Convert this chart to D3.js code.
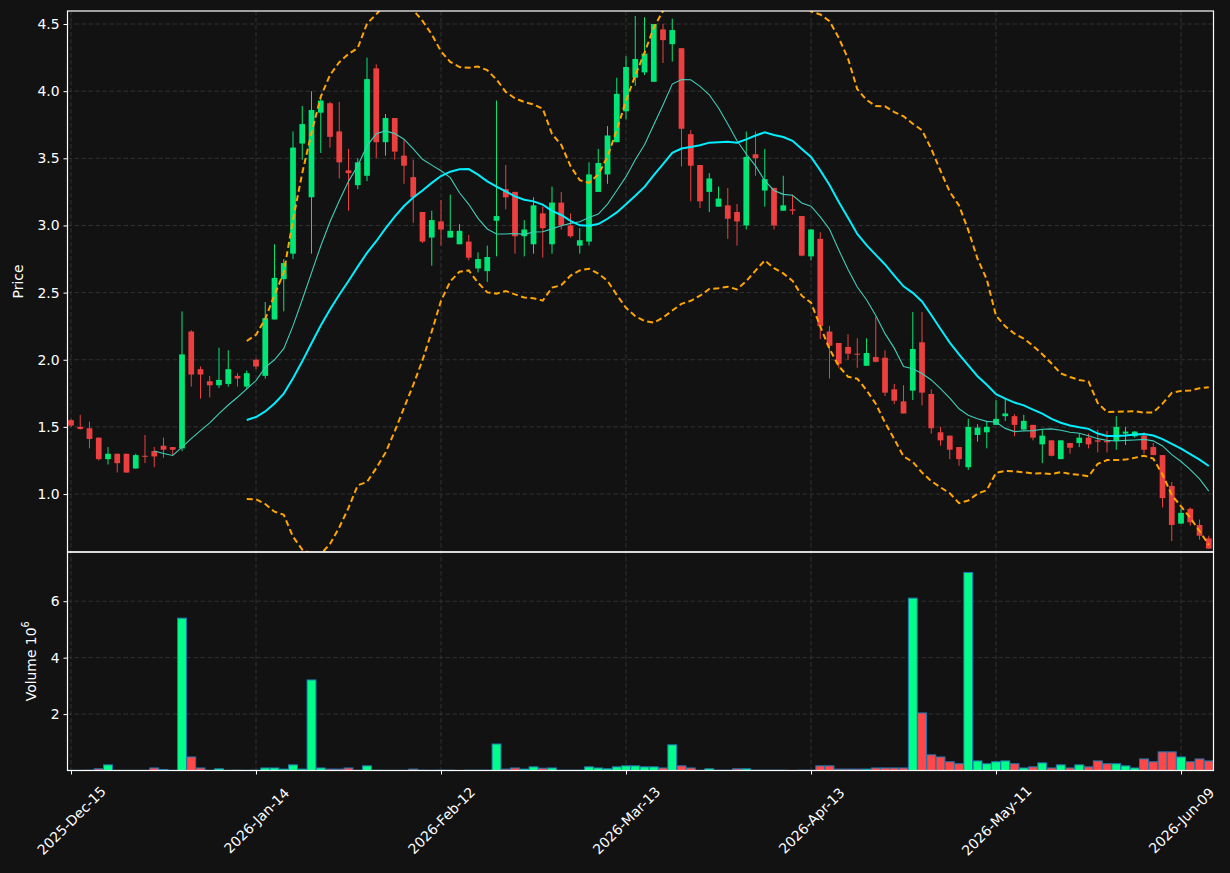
<!DOCTYPE html>
<html><head><meta charset="utf-8">
<script src="https://cdn.jsdelivr.net/npm/d3@7"></script>
<style>html,body{margin:0;padding:0;background:#121212;}svg{display:block;}</style>
</head><body>
<svg id="chart" width="1230" height="873"></svg>
<script>
// ---------------- data ----------------
const dates = [
"2025-12-15","2025-12-16","2025-12-17","2025-12-18","2025-12-19","2025-12-22","2025-12-23","2025-12-24","2025-12-26","2025-12-29",
"2025-12-30","2025-12-31","2026-01-02","2026-01-05","2026-01-06","2026-01-07","2026-01-08","2026-01-09","2026-01-12","2026-01-13",
"2026-01-14","2026-01-15","2026-01-16","2026-01-20","2026-01-21","2026-01-22","2026-01-23","2026-01-26","2026-01-27","2026-01-28",
"2026-01-29","2026-01-30","2026-02-02","2026-02-03","2026-02-04","2026-02-05","2026-02-06","2026-02-09","2026-02-10","2026-02-11",
"2026-02-12","2026-02-13","2026-02-17","2026-02-18","2026-02-19","2026-02-20","2026-02-23","2026-02-24","2026-02-25","2026-02-26",
"2026-02-27","2026-03-02","2026-03-03","2026-03-04","2026-03-05","2026-03-06","2026-03-09","2026-03-10","2026-03-11","2026-03-12",
"2026-03-13","2026-03-16","2026-03-17","2026-03-18","2026-03-19","2026-03-20","2026-03-23","2026-03-24","2026-03-25","2026-03-26",
"2026-03-27","2026-03-30","2026-03-31","2026-04-01","2026-04-02","2026-04-06","2026-04-07","2026-04-08","2026-04-09","2026-04-10",
"2026-04-13","2026-04-14","2026-04-15","2026-04-16","2026-04-17","2026-04-20","2026-04-21","2026-04-22","2026-04-23","2026-04-24",
"2026-04-27","2026-04-28","2026-04-29","2026-04-30","2026-05-01","2026-05-04","2026-05-05","2026-05-06","2026-05-07","2026-05-08",
"2026-05-11","2026-05-12","2026-05-13","2026-05-14","2026-05-15","2026-05-18","2026-05-19","2026-05-20","2026-05-21","2026-05-22",
"2026-05-26","2026-05-27","2026-05-28","2026-05-29","2026-06-01","2026-06-02","2026-06-03","2026-06-04","2026-06-05","2026-06-08",
"2026-06-09","2026-06-10","2026-06-11","2026-06-12"];

const opens = [
1.55,1.50,1.49,1.42,1.26,1.30,1.30,1.19,1.285,1.32,
1.36,1.35,1.34,2.21,1.93,1.84,1.81,1.82,1.88,1.80,
2.00,1.88,2.30,2.60,2.79,3.61,3.21,3.84,3.91,3.70,
3.41,3.30,3.37,4.17,3.62,3.80,3.52,3.36,3.10,2.91,
3.03,2.91,2.86,2.88,2.68,2.66,3.035,3.27,3.25,2.92,
2.86,3.09,2.86,3.17,3.00,2.85,2.88,3.25,3.38,3.62,
3.85,4.10,4.14,4.07,4.46,4.35,4.32,3.68,3.45,3.25,
3.14,3.15,3.10,3.00,3.53,3.26,3.28,3.11,3.12,3.07,
2.77,2.90,2.21,2.125,2.095,2.045,1.955,2.02,2.015,1.78,
1.69,1.77,2.13,1.745,1.46,1.435,1.35,1.20,1.44,1.46,
1.515,1.58,1.58,1.48,1.515,1.37,1.40,1.26,1.38,1.38,
1.42,1.40,1.395,1.395,1.45,1.43,1.435,1.35,1.29,1.06,
0.78,0.89,0.77,0.67];
const highs = [
1.56,1.59,1.54,1.42,1.35,1.30,1.30,1.30,1.44,1.35,
1.42,1.35,2.36,2.22,1.95,1.88,2.09,2.07,1.90,1.92,
2.01,2.43,2.86,2.75,3.70,3.89,4.00,3.97,3.92,3.92,
3.57,3.50,4.25,4.20,3.83,3.80,3.64,3.49,3.10,3.11,
3.19,3.23,3.01,2.93,2.80,2.85,3.93,3.45,3.25,3.04,
3.21,3.14,3.29,3.25,3.09,2.98,3.47,3.57,3.74,4.10,
4.26,4.56,4.55,4.50,4.50,4.54,4.32,3.71,3.45,3.39,
3.29,3.28,3.16,3.70,3.70,3.57,3.28,3.37,3.23,3.07,
2.97,2.95,2.25,2.125,2.19,2.16,2.16,2.32,2.07,1.82,
1.81,2.355,2.355,1.78,1.50,1.435,1.35,1.56,1.52,1.545,
1.70,1.71,1.595,1.59,1.515,1.485,1.40,1.40,1.38,1.45,
1.45,1.48,1.47,1.58,1.50,1.47,1.46,1.38,1.29,1.09,
0.89,0.90,0.81,0.69];
const lows = [
1.50,1.48,1.34,1.25,1.22,1.16,1.16,1.19,1.23,1.20,
1.27,1.29,1.32,1.80,1.71,1.72,1.79,1.80,1.80,1.78,
1.93,1.86,2.30,2.36,2.75,3.49,2.79,3.54,3.58,3.35,
3.11,3.27,3.33,3.50,3.52,3.49,3.31,3.02,2.87,2.70,
2.85,2.91,2.86,2.74,2.65,2.58,2.77,3.12,2.79,2.77,
2.79,2.76,2.79,2.97,2.91,2.79,2.85,3.25,3.31,3.62,
3.79,4.04,4.12,4.07,4.21,4.22,3.44,3.18,3.13,3.10,
3.14,2.90,2.85,2.97,3.37,3.14,2.97,3.11,3.08,2.77,
2.74,2.155,1.86,1.94,2.00,1.94,1.955,1.98,1.73,1.67,
1.60,1.70,1.66,1.45,1.36,1.26,1.21,1.18,1.39,1.34,
1.515,1.545,1.43,1.48,1.40,1.23,1.28,1.26,1.30,1.35,
1.34,1.31,1.31,1.33,1.365,1.42,1.30,1.29,0.90,0.65,
0.78,0.765,0.66,0.594];
const closes = [
1.51,1.485,1.41,1.26,1.30,1.23,1.16,1.29,1.28,1.28,
1.33,1.33,2.04,1.89,1.89,1.81,1.85,1.93,1.86,1.90,
1.95,2.31,2.61,2.72,3.58,3.755,3.86,3.93,3.66,3.47,
3.39,3.47,4.09,3.62,3.80,3.55,3.445,3.21,2.88,3.04,
2.97,2.96,2.96,2.76,2.75,2.765,3.07,3.21,2.92,2.97,
3.15,2.98,3.17,3.00,2.92,2.89,3.38,3.465,3.67,3.98,
4.18,4.24,4.28,4.50,4.38,4.455,3.72,3.445,3.18,3.35,
3.20,3.05,3.03,3.51,3.50,3.345,3.00,3.15,3.11,2.775,
2.97,2.25,2.105,1.97,2.045,2.04,2.05,1.985,1.755,1.695,
1.60,2.08,1.755,1.49,1.40,1.33,1.26,1.50,1.495,1.50,
1.56,1.60,1.515,1.545,1.42,1.435,1.285,1.40,1.345,1.42,
1.37,1.39,1.385,1.50,1.465,1.465,1.33,1.29,0.97,0.77,
0.86,0.79,0.69,0.594];
// volume in millions
const volumes = [
0.005,0.005,0.01,0.06,0.2,0.005,0.005,0.005,0.005,0.09,
0.035,0.005,5.40,0.48,0.09,0.005,0.06,0.005,0.01,0.005,
0.01,0.09,0.09,0.05,0.2,0.05,3.21,0.09,0.05,0.05,
0.09,0.005,0.165,0.01,0.005,0.005,0.005,0.05,0.01,0.005,
0.01,0.01,0,0.01,0.01,0.01,0.94,0.05,0.09,0.05,
0.13,0.08,0.09,0.01,0.01,0.01,0.13,0.09,0.06,0.13,
0.165,0.165,0.13,0.13,0.09,0.91,0.165,0.09,0.005,0.06,
0.01,0.01,0.06,0.06,0.01,0.01,0.01,0.01,0,0.01,
0.01,0.165,0.165,0.05,0.05,0.05,0.05,0.09,0.09,0.09,
0.09,6.11,2.04,0.555,0.48,0.31,0.24,7.02,0.34,0.24,
0.31,0.34,0.24,0.09,0.13,0.27,0.09,0.2,0.09,0.2,
0.13,0.34,0.24,0.24,0.165,0.09,0.41,0.31,0.66,0.66,
0.48,0.31,0.41,0.34];

const tickIndex = [0,20,40,60,80,100,120];
const priceTicks = [1.0,1.5,2.0,2.5,3.0,3.5,4.0,4.5];
const volTicks = [2,4,6];
const maShort = 10, maLong = 20, bbPeriod = 20, bbK = 2;

// ---------------- layout ----------------
const W = 1230, H = 873;
const L = 67.5, R = 1213.5, pTop = 11, pBot = 552, vTop = 552, vBot = 770.5;
const BG = "#121212";
const UP = "#00e676", DOWN = "#ec4040";
const VUP = "#00ff88", VDOWN = "#ff4747";
const GRID = "#3a3a3a";
const FONT = "DejaVu Sans, sans-serif";
const TICKFS = 13.9, LABFS = 13.9;

const svg = d3.select("#chart");
svg.append("rect").attr("width", W).attr("height", H).attr("fill", BG);

const n = closes.length;
const idx = d3.range(n);
const x = d3.scaleLinear().domain([-0.378, 123.51]).range([L, R]);
const y = d3.scaleLinear().domain([0.5685, 4.597]).range([pBot, pTop]);
const yv = d3.scaleLinear().domain([0, 7.745]).range([vBot, vTop]);
const step = x(1) - x(0);

const defs = svg.append("defs");
defs.append("clipPath").attr("id", "pclip").append("rect")
  .attr("x", L).attr("y", pTop).attr("width", R - L).attr("height", pBot - pTop);
defs.append("clipPath").attr("id", "vclip").append("rect")
  .attr("x", L).attr("y", vTop).attr("width", R - L).attr("height", vBot - vTop);

// ---------------- grids ----------------
const grid = svg.append("g").attr("stroke", GRID).attr("stroke-width", 0.8).attr("stroke-dasharray", "4.5,2.5");
grid.selectAll(".gx").data(tickIndex).join("line")
  .attr("x1", d => x(d)).attr("x2", d => x(d)).attr("y1", pTop).attr("y2", vBot);
grid.selectAll(".gy").data(priceTicks).join("line")
  .attr("x1", L).attr("x2", R).attr("y1", d => y(d)).attr("y2", d => y(d));
grid.selectAll(".gv").data(volTicks).join("line")
  .attr("x1", L).attr("x2", R).attr("y1", d => yv(d)).attr("y2", d => yv(d));

// ---------------- candles ----------------
const pg = svg.append("g").attr("clip-path", "url(#pclip)");
const isUp = i => closes[i] >= opens[i];
const bodyW = step * 0.62;
pg.append("g").selectAll("line").data(idx).join("line")
  .attr("x1", i => x(i)).attr("x2", i => x(i))
  .attr("y1", i => y(highs[i])).attr("y2", i => y(lows[i]))
  .attr("stroke", i => isUp(i) ? UP : DOWN).attr("stroke-width", 1);
pg.append("g").selectAll("rect").data(idx).join("rect")
  .attr("x", i => x(i) - bodyW / 2).attr("width", bodyW)
  .attr("y", i => y(Math.max(opens[i], closes[i])))
  .attr("height", i => Math.max(1, Math.abs(y(opens[i]) - y(closes[i]))))
  .attr("fill", i => isUp(i) ? UP : DOWN);

// ---------------- indicators ----------------
function sma(arr, p) { return arr.map((_, i) => i < p - 1 ? null : d3.mean(arr.slice(i - p + 1, i + 1))); }
function pstd(arr, p) {
  return arr.map((_, i) => {
    if (i < p - 1) return null;
    const w = arr.slice(i - p + 1, i + 1), m = d3.mean(w);
    return Math.sqrt(d3.mean(w, v => (v - m) * (v - m)));
  });
}
const ma10 = sma(closes, maShort);
const ma20 = sma(closes, maLong);
const bbMid = sma(closes, bbPeriod);
const bbSd = pstd(closes, bbPeriod);
const bbUp = bbMid.map((m, i) => m == null ? null : m + bbK * bbSd[i]);
const bbLo = bbMid.map((m, i) => m == null ? null : m - bbK * bbSd[i]);

const line = arr => d3.line().defined(i => arr[i] != null).x(i => x(i)).y(i => y(arr[i]))(idx);
pg.append("path").attr("d", line(bbUp)).attr("fill", "none").attr("stroke", "#ffa500")
  .attr("stroke-width", 2).attr("stroke-dasharray", "6,3.5");
pg.append("path").attr("d", line(bbLo)).attr("fill", "none").attr("stroke", "#ffa500")
  .attr("stroke-width", 2).attr("stroke-dasharray", "6,3.5");
pg.append("path").attr("d", line(ma10)).attr("fill", "none").attr("stroke", "#40cdb8")
  .attr("stroke-width", 1.1);
pg.append("path").attr("d", line(ma20)).attr("fill", "none").attr("stroke", "#00efff")
  .attr("stroke-width", 2);

// ---------------- volume ----------------
const vg = svg.append("g").attr("clip-path", "url(#vclip)");
const vW = step * 0.96;
vg.selectAll("rect").data(idx).join("rect")
  .attr("x", i => x(i) - vW / 2).attr("width", vW)
  .attr("y", i => yv(volumes[i])).attr("height", i => yv(0) - yv(volumes[i]))
  .attr("fill", i => isUp(i) ? VUP : VDOWN)
  .attr("stroke", "#1f77b4").attr("stroke-width", 1);

// ---------------- frames & axes ----------------
const frame = svg.append("g").attr("fill", "none").attr("stroke", "#ffffff").attr("stroke-width", 1.2);
frame.append("rect").attr("x", L).attr("y", pTop).attr("width", R - L).attr("height", pBot - pTop);
frame.append("rect").attr("x", L).attr("y", vTop).attr("width", R - L).attr("height", vBot - vTop);

const fmtDate = d3.timeFormat("%Y-%b-%d");
const parse = d3.timeParse("%Y-%m-%d");

const xAxis = svg.append("g").attr("transform", `translate(0,${vBot})`)
  .call(d3.axisBottom(x).tickValues(tickIndex).tickSize(4).tickPadding(4)
    .tickFormat(i => fmtDate(parse(dates[i]))));
xAxis.select(".domain").remove();
xAxis.selectAll(".tick line").attr("stroke", "#ffffff");
xAxis.selectAll(".tick text")
  .attr("fill", "#ffffff").attr("font-family", FONT).attr("font-size", TICKFS)
  .attr("text-anchor", "middle").attr("dy", null).attr("y", 0).attr("x", 0)
  .attr("dominant-baseline", "central")
  .attr("transform", "translate(0,50) rotate(-45)");

const yAxis = svg.append("g").attr("transform", `translate(${L},0)`)
  .call(d3.axisLeft(y).tickValues(priceTicks).tickSize(4).tickPadding(4).tickFormat(d3.format(".1f")));
yAxis.select(".domain").remove();
yAxis.selectAll(".tick line").attr("stroke", "#ffffff");
yAxis.selectAll(".tick text").attr("fill", "#ffffff").attr("font-family", FONT).attr("font-size", TICKFS);

const vAxis = svg.append("g").attr("transform", `translate(${L},0)`)
  .call(d3.axisLeft(yv).tickValues(volTicks).tickSize(4).tickPadding(4).tickFormat(d3.format("d")));
vAxis.select(".domain").remove();
vAxis.selectAll(".tick line").attr("stroke", "#ffffff");
vAxis.selectAll(".tick text").attr("fill", "#ffffff").attr("font-family", FONT).attr("font-size", TICKFS);

// axis labels
svg.append("text").attr("transform", `translate(18,${(pTop + pBot) / 2}) rotate(-90)`)
  .attr("text-anchor", "middle").attr("dominant-baseline", "central")
  .attr("fill", "#ffffff").attr("font-family", FONT).attr("font-size", LABFS)
  .text("Price");
const vl = svg.append("text").attr("transform", `translate(31,${(vTop + vBot) / 2}) rotate(-90)`)
  .attr("text-anchor", "middle").attr("dominant-baseline", "central")
  .attr("fill", "#ffffff").attr("font-family", FONT).attr("font-size", LABFS);
vl.append("tspan").text("Volume  10");
vl.append("tspan").attr("font-size", LABFS * 0.7).attr("dy", -6).text("6");
</script>
</body></html>
